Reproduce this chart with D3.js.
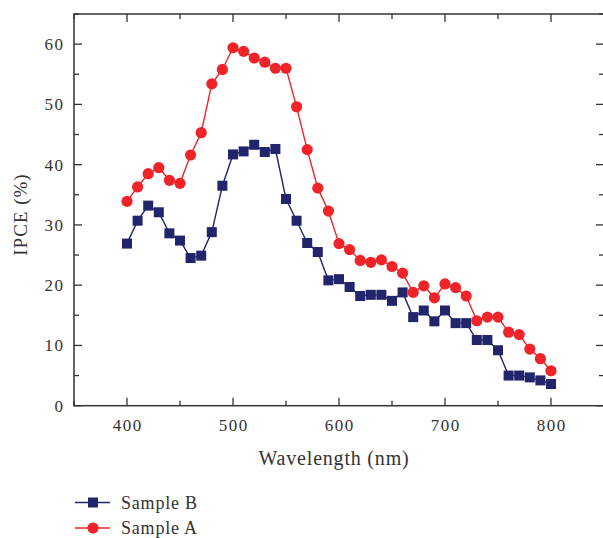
<!DOCTYPE html>
<html>
<head>
<meta charset="utf-8">
<script src="https://cdn.jsdelivr.net/npm/d3@7"></script>
<style>
  body { margin: 0; background: #fff; }
  text { font-family: "Liberation Serif", "DejaVu Serif", serif; fill: #333; }
</style>
</head>
<body>
<div id="chart"></div>
<script>
var wavelength = d3.range(400, 801, 10)
var sampleA = [33.9, 36.3, 38.5, 39.5, 37.4, 36.9, 41.6, 45.3, 53.4, 55.8,
  59.4, 58.8, 57.7, 57.0, 56.0, 56.0, 49.6, 42.5, 36.1, 32.3,
  26.9, 25.9, 24.1, 23.8, 24.2, 23.1, 22.0, 18.8, 19.9, 17.9,
  20.2, 19.6, 18.2, 14.1, 14.7, 14.7, 12.2, 11.8, 9.4, 7.8, 5.8]
var sampleB = [26.9, 30.7, 33.2, 32.1, 28.6, 27.4, 24.5, 24.9, 28.8, 36.5,
  41.7, 42.2, 43.3, 42.1, 42.6, 34.3, 30.7, 27.0, 25.5, 20.8,
  21.0, 19.7, 18.2, 18.4, 18.4, 17.4, 18.8, 14.7, 15.8, 14.0,
  15.8, 13.7, 13.7, 10.9, 10.9, 9.2, 5.0, 5.0, 4.7, 4.2, 3.6]
var xTicks = [400, 500, 600, 700, 800]
var yTicks = [0, 10, 20, 30, 40, 50, 60]

var W = 603, H = 538
// plot box (named so they don't clash with window.top)
var pL = 74, pR = 604, pT = 14, pB = 405.7

var svg = d3.select('#chart').append('svg')
  .attr('width', W)
  .attr('height', H)

var x = d3.scaleLinear().domain([350, 850]).range([pL, pR])
var y = d3.scaleLinear().domain([0, 65]).range([pB, pT])

var xMinor = d3.range(350, 851, 50)
var yMinor = d3.range(0, 66, 5)

// frame
svg.append('rect')
  .attr('x', pL).attr('y', pT)
  .attr('width', pR - pL).attr('height', pB - pT)
  .attr('fill', 'none').attr('stroke', '#333').attr('stroke-width', 1.5)

// inward ticks on all four sides
function tickLen(v, step) { return v % step === 0 ? 8 : 5 }
var tk = svg.append('g').attr('stroke', '#333').attr('stroke-width', 1.3)
xMinor.forEach(function(v) {
  var L = tickLen(v, 100)
  tk.append('line').attr('x1', x(v)).attr('x2', x(v)).attr('y1', pB).attr('y2', pB - L)
  tk.append('line').attr('x1', x(v)).attr('x2', x(v)).attr('y1', pT).attr('y2', pT + L)
})
yMinor.forEach(function(v) {
  var L = tickLen(v, 10)
  tk.append('line').attr('y1', y(v)).attr('y2', y(v)).attr('x1', pL).attr('x2', pL + L)
  tk.append('line').attr('y1', y(v)).attr('y2', y(v)).attr('x1', pR).attr('x2', pR - L)
})

svg.selectAll('.xl').data(xTicks).enter().append('text')
  .attr('x', d => x(d) + 0.8).attr('y', pB + 25)
  .attr('text-anchor', 'middle').attr('font-size', 17)
  .attr('letter-spacing', 1.5)
  .text(d => d)
svg.selectAll('.yl').data(yTicks).enter().append('text')
  .attr('x', pL - 9.5).attr('y', d => y(d) + 6)
  .attr('text-anchor', 'end').attr('font-size', 17)
  .attr('letter-spacing', 1.5)
  .text(d => d)

svg.append('text')
  .attr('x', 334).attr('y', 465)
  .attr('text-anchor', 'middle').attr('font-size', 20)
  .attr('letter-spacing', 0.8)
  .text('Wavelength (nm)')
svg.append('text')
  .attr('transform', 'translate(27,214.5) rotate(-90)')
  .attr('text-anchor', 'middle').attr('font-size', 19)
  .attr('letter-spacing', 1)
  .text('IPCE (%)')

var series = [
  { name: 'Sample B', values: sampleB, color: '#22246c', shape: 'square' },
  { name: 'Sample A', values: sampleA, color: '#ee2428', shape: 'circle' }
]

var line = d3.line().x((d, i) => x(wavelength[i])).y(d => y(d))

series.forEach(function(s) {
  svg.append('path')
    .attr('d', line(s.values))
    .attr('fill', 'none').attr('stroke', s.color).attr('stroke-width', 1.4)
  var g = svg.append('g')
  if (s.shape === 'square') {
    g.selectAll('rect').data(s.values).enter().append('rect')
      .attr('x', (d, i) => x(wavelength[i]) - 5)
      .attr('y', d => y(d) - 5)
      .attr('width', 10).attr('height', 10)
      .attr('fill', s.color)
  } else {
    g.selectAll('circle').data(s.values).enter().append('circle')
      .attr('cx', (d, i) => x(wavelength[i]))
      .attr('cy', d => y(d))
      .attr('r', 5.6)
      .attr('fill', s.color)
  }
})

// legend
var lg = svg.append('g')
series.forEach(function(s, i) {
  var ly = 502.5 + i * 25.5
  lg.append('line').attr('x1', 75).attr('x2', 110).attr('y1', ly).attr('y2', ly)
    .attr('stroke', s.color).attr('stroke-width', 1.4)
  if (s.shape === 'square') {
    lg.append('rect').attr('x', 88).attr('y', ly - 5).attr('width', 10).attr('height', 10).attr('fill', s.color)
  } else {
    lg.append('circle').attr('cx', 93).attr('cy', ly).attr('r', 5.6).attr('fill', s.color)
  }
  lg.append('text').attr('x', 121).attr('y', ly + 6).attr('font-size', 18)
    .attr('letter-spacing', 0.8).text(s.name)
})
</script>
</body>
</html>
